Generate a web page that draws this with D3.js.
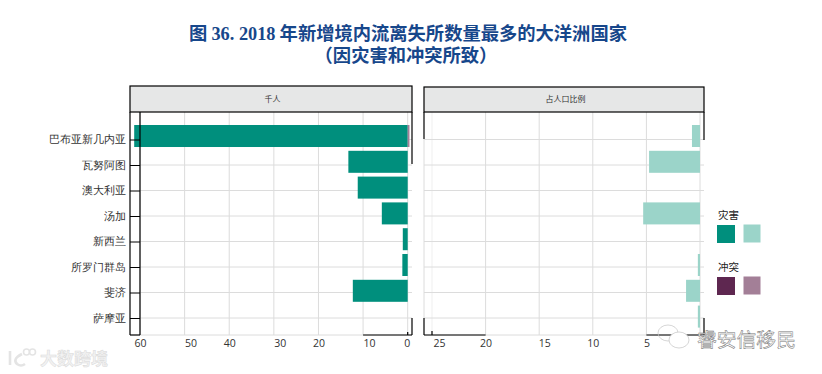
<!DOCTYPE html>
<html>
<head>
<meta charset="utf-8">
<script src="https://cdn.jsdelivr.net/npm/d3@7/dist/d3.min.js"></script>
<style>
  body { margin: 0; background: #fff; }
  svg { display: block; font-family: "Noto Sans CJK SC", sans-serif; }
</style>
</head>
<body>
<svg id="chart" width="822" height="374"></svg>
<script>
  let countries = ["巴布亚新几内亚", "瓦努阿图", "澳大利亚", "汤加", "新西兰", "所罗门群岛", "斐济", "萨摩亚"];
  let disasterThousands = [61.3, 13.3, 11.2, 5.8, 1.1, 1.2, 12.3, 0];
  let conflictThousands = [0.4, 0, 0, 0, 0, 0, 0, 0];
  let disasterPer100k = [0.75, 4.75, 0, 5.3, 0, 0.2, 1.3, 0.2];
  let thousandTicks = [60, 50, 40, 30, 20, 10, 0];
  let rateTicks = [25, 20, 15, 10, 5];

  const teal = "#008f7d", tealLight = "#9bd4c9", plum = "#5e2750", plumLight = "#a37f97";
  const gridColor = "#dcdcdc", stripColor = "#e6e7e7";
  let svg = d3.select("#chart");

  // Title
  let title = svg.append("text").attr("fill", "#17478b").attr("font-weight", "bold")
    .attr("text-anchor", "middle").style("font-size", "18.3px");
  title.append("tspan").attr("x", 408).attr("y", 40)
    .html('图 <tspan font-family="Liberation Serif">36. 2018</tspan> 年新增境内流离失所数量最多的大洋洲国家');
  title.append("tspan").attr("x", 406).attr("y", 62).text("（因灾害和冲突所致）");

  // Shared y scales: bars sit a little above their gridlines in the original
  let yBar = d3.scaleBand().domain(countries).range([125, 327.6]).paddingInner(0.147);
  let yTick = d3.scalePoint().domain(countries).range([139.5, 318]);

  // Panels
  let xLeft = d3.scaleLinear().domain([60, 0]).range([140, 407.7]);
  let xRight = d3.scaleLinear().domain([25, 0]).range([432, 700]);

  function drawGrid(x, ticks, x0, x1) {
    let g = svg.append("g").attr("stroke", gridColor).attr("stroke-width", 1);
    g.selectAll(".v").data(ticks).enter().append("line")
      .attr("x1", (d) => x(d)).attr("x2", (d) => x(d))
      .attr("y1", 112).attr("y2", 335)
      .attr("stroke", (d) => (d === 25 ? "#efefef" : gridColor));
    g.selectAll(".h").data(countries).enter().append("line")
      .attr("x1", x0).attr("x2", x1)
      .attr("y1", (d) => yTick(d)).attr("y2", (d) => yTick(d));
    g.append("line").attr("x1", x0).attr("x2", x1).attr("y1", 335).attr("y2", 335);
    return g;
  }
  drawGrid(xLeft, thousandTicks, 140, 412);
  drawGrid(xRight, rateTicks.concat([0]), 424, 704)
    .append("line").attr("x1", 424).attr("x2", 424).attr("y1", 139).attr("y2", 318);

  // Bars
  let barsLeft = svg.append("g");
  barsLeft.selectAll("rect").data(countries).enter().append("rect")
    .attr("x", (d, i) => xLeft(disasterThousands[i]))
    .attr("y", (d) => yBar(d))
    .attr("width", (d, i) => xLeft(0) - xLeft(disasterThousands[i]))
    .attr("height", yBar.bandwidth())
    .attr("fill", teal);
  barsLeft.selectAll(".conflict").data(countries).enter().append("rect")
    .attr("x", xLeft(0))
    .attr("y", (d) => yBar(d))
    .attr("width", (d, i) => xLeft(0) - xLeft(conflictThousands[i]))
    .attr("height", yBar.bandwidth())
    .attr("fill", plumLight);

  svg.append("g").selectAll("rect").data(countries).enter().append("rect")
    .attr("x", (d, i) => xRight(disasterPer100k[i]))
    .attr("y", (d) => yBar(d))
    .attr("width", (d, i) => xRight(0) - xRight(disasterPer100k[i]))
    .attr("height", yBar.bandwidth())
    .attr("fill", tealLight);

  // Strips
  [[130, 412, "千人", 86], [424, 704, "占人口比例", 87]].forEach(([x0, x1, label, top]) => {
    svg.append("rect").attr("x", x0).attr("y", top).attr("width", x1 - x0).attr("height", 112 - top)
      .attr("fill", stripColor).attr("stroke", "#000").attr("stroke-width", 1.2);
    svg.append("text").attr("x", (x0 + x1) / 2 + 1.5).attr("y", 102).attr("text-anchor", "middle")
      .style("font-size", "8px").attr("fill", "#333").text(label);
  });

  // Y axis with the ticks running between the two black lines
  let yAxis = svg.append("g").attr("transform", "translate(140,0)")
    .call(d3.axisLeft(yTick).tickSize(10));
  yAxis.select(".domain").remove();
  yAxis.selectAll("line").attr("stroke", "#000");
  yAxis.selectAll("text").style("font-size", "10.6px").attr("fill", "#333").attr("x", -14).attr("dy", "0.3em");

  let frame = svg.append("g").attr("stroke", "#000").attr("stroke-width", 1.2);
  frame.append("line").attr("x1", 130).attr("x2", 130).attr("y1", 112).attr("y2", 335);
  frame.append("line").attr("x1", 140).attr("x2", 140).attr("y1", 112).attr("y2", 335);
  frame.append("line").attr("x1", 412).attr("x2", 412).attr("y1", 112).attr("y2", 164);
  frame.append("line").attr("x1", 412).attr("x2", 412).attr("y1", 318).attr("y2", 335);
  frame.append("line").attr("x1", 424).attr("x2", 424).attr("y1", 112).attr("y2", 139);
  frame.append("line").attr("x1", 424).attr("x2", 424).attr("y1", 318).attr("y2", 335);
  frame.append("line").attr("x1", 704).attr("x2", 704).attr("y1", 112).attr("y2", 140);
  frame.append("line").attr("x1", 704).attr("x2", 704).attr("y1", 318).attr("y2", 335);
  frame.append("line").attr("x1", 130).attr("x2", 140).attr("y1", 335).attr("y2", 335);
  frame.append("line").attr("x1", xLeft(10)).attr("x2", 412).attr("y1", 335).attr("y2", 335);
  frame.append("line").attr("x1", 424).attr("x2", xRight(20)).attr("y1", 335).attr("y2", 335);
  frame.append("line").attr("x1", xRight(5)).attr("x2", 704).attr("y1", 335).attr("y2", 335);
  // Short tick stubs that survive on the bottom edge
  frame.append("line").attr("x1", xLeft(0)).attr("x2", xLeft(0)).attr("y1", 332).attr("y2", 335);
  frame.append("line").attr("x1", xRight(25)).attr("x2", xRight(25)).attr("y1", 331).attr("y2", 335);

  // X axes, labels
  let axisLeft = svg.append("g").attr("transform", "translate(0,335)")
    .call(d3.axisBottom(xLeft).tickValues(thousandTicks).tickSize(0).tickPadding(5));
  axisLeft.select(".domain").remove();
  axisLeft.selectAll("text").style("font-size", "10.5px").attr("fill", "#333")
    .attr("font-family", "Open Sans")
    .attr("dx", (d) => (d % 20 === 10 ? 6 : d === 0 ? -1 : 0));

  let axisRight = svg.append("g").attr("transform", "translate(0,335)")
    .call(d3.axisBottom(xRight).tickValues(rateTicks).tickSize(0).tickPadding(5));
  axisRight.select(".domain").remove();
  axisRight.selectAll("text").style("font-size", "10.5px").attr("fill", "#333")
    .attr("font-family", "Open Sans")
    .attr("dx", (d) => (d === 25 ? 7 : d === 15 ? 5 : 0));

  // Legend
  let legendData = [
    { label: "灾害", y: 219, dark: teal, light: tealLight },
    { label: "冲突", y: 271, dark: plum, light: plumLight },
  ];
  let legend = svg.append("g").selectAll("g").data(legendData).enter().append("g");
  legend.append("text").attr("x", 718).attr("y", (d) => d.y)
    .style("font-size", "10.5px").attr("fill", "#222").text((d) => d.label);
  legend.append("rect").attr("x", 717).attr("y", (d) => d.y + 6).attr("width", 18).attr("height", 18)
    .attr("fill", (d) => d.dark);
  legend.append("rect").attr("x", 743.5).attr("y", (d) => d.y + 5.5).attr("width", 17).attr("height", 18)
    .attr("fill", (d) => d.light);

  // WeChat style bubbles and the small logo of the watermarks
  let marks = svg.append("g").attr("fill", "none").attr("stroke", "#c4c4c4").attr("stroke-width", 0.7);
  marks.append("ellipse").attr("cx", 668).attr("cy", 333).attr("rx", 10).attr("ry", 8);
  marks.append("ellipse").attr("cx", 679).attr("cy", 340).attr("rx", 10).attr("ry", 8).attr("fill", "#fff");
  let logo = svg.append("g").attr("fill", "none").attr("stroke", "#e4e4e4").attr("stroke-width", 2.6);
  logo.append("path").attr("d", "M10 351 V365 M22 354 Q12 359 17 364 Q21 367 25 364");
  logo.append("g").attr("stroke-width", 1.6).call((g) => {
    g.append("circle").attr("cx", 26.5).attr("cy", 352).attr("r", 3);
    g.append("circle").attr("cx", 32.5).attr("cy", 352).attr("r", 3);
  });

  // Watermarks
  svg.append("text").attr("x", 697).attr("y", 346.5).style("font-size", "19.8px")
    .attr("fill", "#fff").attr("stroke", "#777").attr("stroke-width", 0.5).text("睿安信移民");
  svg.append("text").attr("x", 40).attr("y", 365).style("font-size", "17px").attr("font-weight", "bold")
    .attr("fill", "#f2f2f2").attr("stroke", "#dadada").attr("stroke-width", 0.5).text("大数跨境");
</script>
</body>
</html>
